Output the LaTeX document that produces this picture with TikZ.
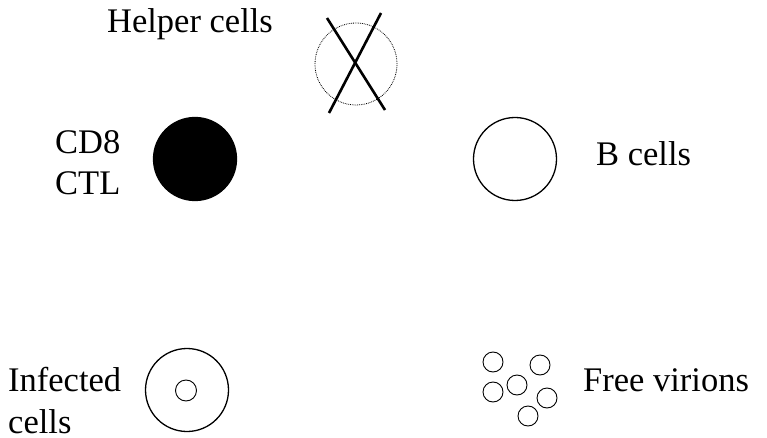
\documentclass[tikz,border=0pt]{standalone}
\usepackage{fontspec}
\setmainfont{Liberation Serif}
\newfontfamily\tnr{Liberation Serif}
\begin{document}
\begin{tikzpicture}[x=1pt,y=-1pt,
  lbl/.style={inner sep=0pt,font=\tnr\fontsize{34.5}{42}\selectfont,align=left},
  cell/.style={circle,draw,line width=1.3pt,minimum size=83pt,inner sep=0pt},
  virion/.style={circle,draw,line width=0.9pt,minimum size=20pt,inner sep=0pt},
  cross/.style={line width=2.6pt}]
\useasboundingbox (0,0) rectangle (767,438);
% helper cells
\node[circle,draw,densely dotted,line width=0.8pt,minimum size=82pt,inner sep=0pt] (helper) at (356,64) {};
\coordinate (x1a) at (327,18); \coordinate (x1b) at (385,110);
\coordinate (x2a) at (381,13); \coordinate (x2b) at (329,113);
\draw[cross] (x1a) -- (x1b);
\draw[cross] (x2a) -- (x2b);
\node[lbl,anchor=base] (helperlbl) at (190,33) {Helper cells};
% CD8 CTL
\node[cell,fill=black] (cd8) at (195,159) {};
\node[lbl,anchor=base west] (cd8lbl) at (55,195) {CD8\\[-1pt]CTL};
% B cells
\node[cell] (bcell) at (515,159) {};
\node[lbl,anchor=base west] (blbl) at (596,166) {B cells};
% infected cells
\node[cell] (inf) at (187,390) {};
\node[circle,draw,line width=0.9pt,minimum size=21pt,inner sep=0pt] (core) at (186,390.5) {};
\node[lbl,anchor=base west] (inflbl) at (8,433) {Infected\\[0pt]cells};
% free virions
\node[virion] (v1) at (493,362) {};
\node[virion] (v2) at (540,365) {};
\node[virion] (v3) at (493,392) {};
\node[virion] (v4) at (517,385) {};
\node[virion] (v5) at (547,398) {};
\node[virion] (v6) at (528,416) {};
\node[lbl,anchor=base west] (vlbl) at (583,391) {Free virions};
\end{tikzpicture}
\end{document}
